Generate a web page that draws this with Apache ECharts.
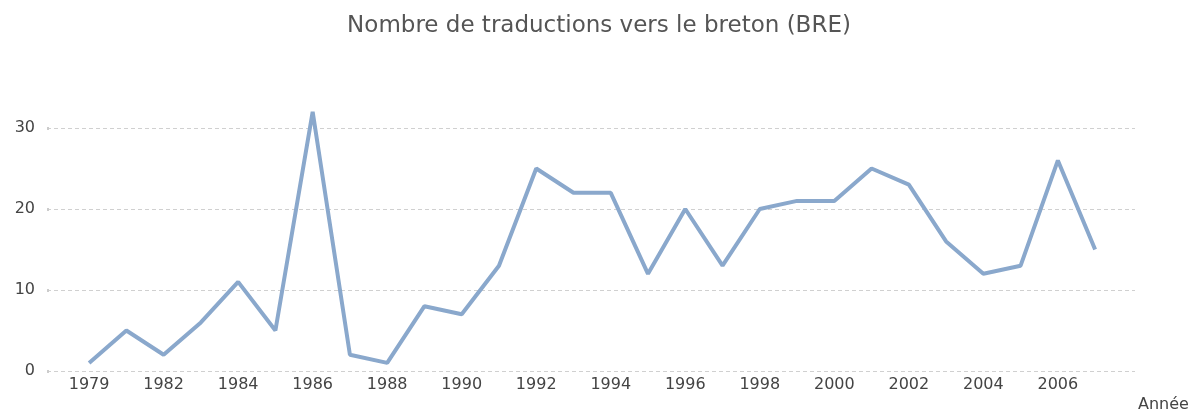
<!DOCTYPE html>
<html><head><meta charset="utf-8">
<script src="https://cdn.jsdelivr.net/npm/echarts@6/dist/echarts.min.js"></script>
<style>html,body{margin:0;padding:0;background:#fff}#c{width:1198px;height:417px}</style>
</head><body><div id="c"></div>
<script>
const years = ['1979','1981','1982','1983','1984','1985','1986','1987','1988','1989','1990','1991','1992','1993','1994','1995','1996','1997','1998','1999','2000','2001','2002','2003','2004','2005','2006','2007'];
const values = [1,5,2,6,11,5,32,2,1,8,7,13,25,22,22,12,20,13,20,21,21,25,23,16,12,13,26,15];
const yTicks = [0,10,20,30];
const titleText = 'Nombre de traductions vers le breton (BRE)';
const xName = 'Année';

const labelIdx = years.map((y,i)=>i).filter(i=>i%2===0 && i<years.length-1);
const chart = echarts.init(document.getElementById('c'));
chart.setOption({
  animation:false,
  title:{text:titleText,left:'center',top:10,textStyle:{fontFamily:'DejaVu Sans',fontSize:23,fontWeight:'normal',color:'#555'}},
  grid:{left:47,right:63,top:87.5,bottom:46,containLabel:false},
  xAxis:{type:'value',min:-1.13,max:28.07,
    name:xName,nameLocation:'end',nameGap:3,
    nameTextStyle:{fontFamily:'DejaVu Sans',fontSize:16,color:'#444',align:'left',verticalAlign:'top',padding:[26,0,0,0]},
    axisLine:{show:false},axisTick:{show:false},splitLine:{show:false},
    axisLabel:{customValues:labelIdx,formatter:v=>years[v],fontFamily:'DejaVu Sans',fontSize:16,color:'#444',margin:6}
  },
  yAxis:{type:'value',min:0,max:35,interval:10,
    axisLine:{show:false,onZero:false},
    axisTick:{show:true,customValues:yTicks,length:2,inside:true,lineStyle:{color:'#ccc',width:3}},
    axisLabel:{customValues:yTicks,fontFamily:'DejaVu Sans',fontSize:16,color:'#444',margin:12},
    splitLine:{show:true,lineStyle:{color:'#d0d0d0',type:[4,3],width:1}}
  },
  series:[{type:'line',data:years.map((y,i)=>[i,values[i]]),showSymbol:false,
    lineStyle:{color:'#8aa8cc',width:4},itemStyle:{color:'#8aa8cc'}}]
});
</script></body></html>
